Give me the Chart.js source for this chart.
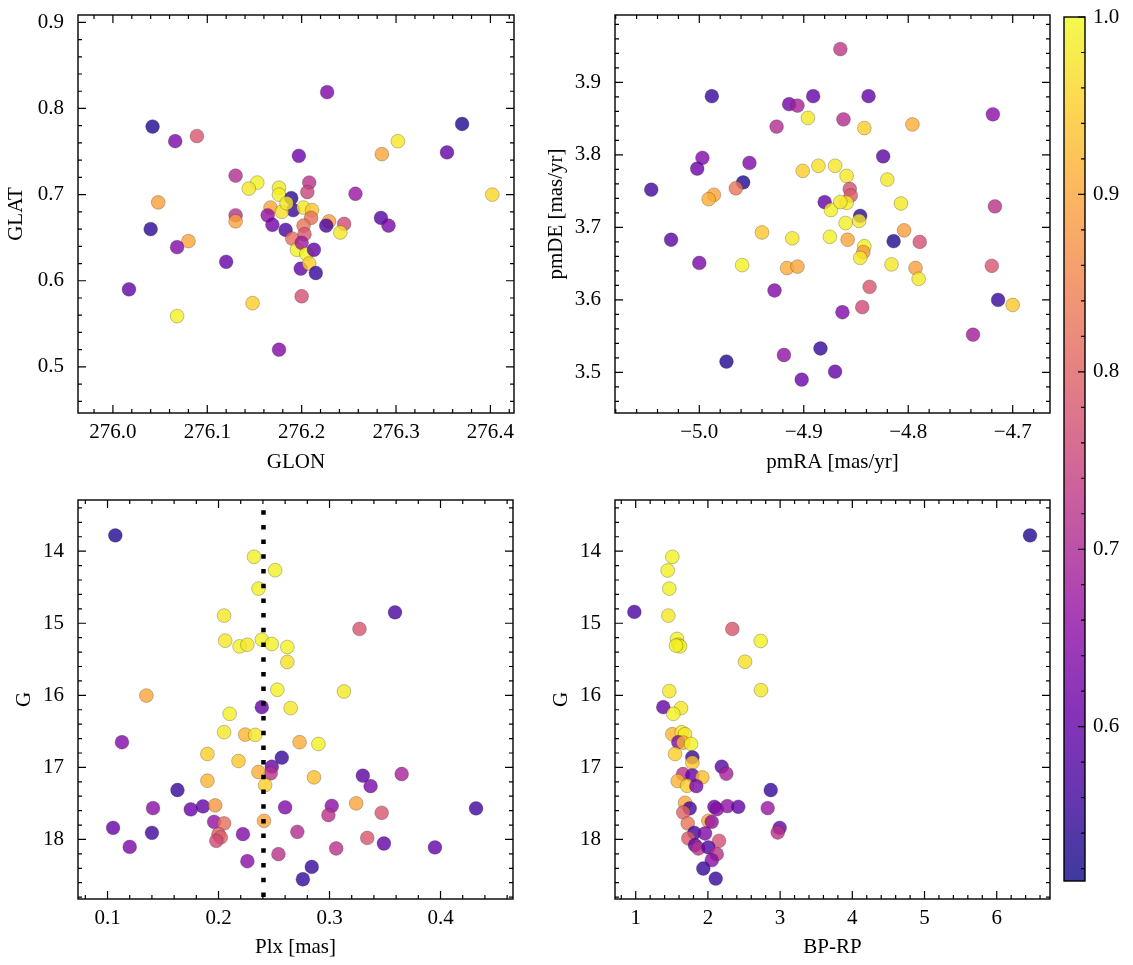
<!DOCTYPE html>
<html>
<head>
<meta charset="utf-8">
<script src="https://cdn.jsdelivr.net/npm/chart.js@4.4.1/dist/chart.umd.min.js"></script>
<style>
  html, body { margin: 0; padding: 0; background: #fff; }
  #wrap { position: relative; width: 1133px; height: 965px; }
  canvas { position: absolute; }
</style>
</head>
<body>
<div id="wrap">
  <canvas id="glonChart" width="540" height="475" style="left:0;top:0"></canvas>
  <canvas id="pmChart" width="520" height="475" style="left:540px;top:0"></canvas>
  <canvas id="plxChart" width="540" height="475" style="left:0;top:485px"></canvas>
  <canvas id="cmdChart" width="520" height="475" style="left:540px;top:485px"></canvas>
  <canvas id="cbarChart" width="93" height="900" style="left:1040px;top:0"></canvas>
</div>
<script>
// colour range of the membership probability (colorbar)
const probMin = 0.513;
const probMax = 1.0;

// GLON / GLAT
const glon = [276.042, 276.066, 276.089, 276.130, 276.153, 276.144, 276.048, 276.176, 276.176, 276.130,
  276.130, 276.167, 276.189, 276.191, 276.179, 276.164, 276.169, 276.183, 276.190, 276.195,
  276.040, 276.080, 276.068, 276.120, 276.017, 276.148, 276.068, 276.176, 276.197, 276.199,
  276.227, 276.370, 276.302, 276.285, 276.354, 276.208, 276.206, 276.257, 276.402, 276.202,
  276.211, 276.210, 276.229, 276.226, 276.245, 276.241, 276.284, 276.292, 276.202, 276.203,
  276.200, 276.205, 276.213, 276.208, 276.215, 276.200, 276.184];
const glat = [0.779, 0.762, 0.768, 0.722, 0.714, 0.707, 0.691, 0.708, 0.700, 0.676,
  0.669, 0.685, 0.696, 0.682, 0.680, 0.676, 0.665, 0.659, 0.649, 0.636,
  0.660, 0.646, 0.639, 0.622, 0.590, 0.574, 0.559, 0.520, 0.745, 0.614,
  0.819, 0.782, 0.762, 0.747, 0.749, 0.714, 0.703, 0.701, 0.700, 0.685,
  0.682, 0.673, 0.669, 0.664, 0.666, 0.656, 0.673, 0.664, 0.664, 0.654,
  0.644, 0.631, 0.636, 0.620, 0.609, 0.582, 0.690];
const probA = [0.53, 0.63, 0.78, 0.71, 0.99, 0.98, 0.89, 0.98, 0.99, 0.72,
  0.90, 0.90, 0.54, 0.55, 0.97, 0.66, 0.62, 0.57, 0.82, 0.99,
  0.54, 0.90, 0.64, 0.60, 0.60, 0.95, 0.99, 0.64, 0.61, 0.60,
  0.63, 0.53, 0.98, 0.90, 0.60, 0.72, 0.75, 0.67, 0.96, 0.98,
  0.94, 0.82, 0.89, 0.57, 0.76, 0.98, 0.58, 0.63, 0.83, 0.78,
  0.68, 0.99, 0.60, 0.95, 0.55, 0.77, 0.98];

// proper motions
const pmra = [-4.988, -4.914, -4.906, -4.891, -4.896, -4.926, -4.997, -5.002, -4.952, -5.046,
  -4.958, -4.965, -4.986, -4.991, -4.901, -4.886, -4.870, -4.880, -4.874, -5.027,
  -4.940, -4.911, -4.875, -5.000, -4.959, -4.916, -4.906, -4.928, -4.974, -4.919,
  -4.884, -4.902, -4.870, -4.865, -4.838, -4.862, -4.842, -4.796, -4.719, -4.824,
  -4.859, -4.820, -4.856, -4.855, -4.859, -4.865, -4.807, -4.846, -4.847, -4.860,
  -4.858, -4.804, -4.814, -4.789, -4.842, -4.843, -4.846, -4.816, -4.793, -4.790,
  -4.837, -4.844, -4.863, -4.717, -4.720, -4.714, -4.700, -4.738];
const pmde = [3.881, 3.870, 3.868, 3.881, 3.851, 3.839, 3.796, 3.781, 3.789, 3.752,
  3.762, 3.754, 3.745, 3.739, 3.778, 3.785, 3.785, 3.735, 3.724, 3.683,
  3.693, 3.685, 3.687, 3.651, 3.648, 3.644, 3.646, 3.613, 3.515, 3.524,
  3.533, 3.490, 3.501, 3.946, 3.881, 3.849, 3.837, 3.842, 3.856, 3.798,
  3.771, 3.766, 3.753, 3.744, 3.734, 3.735, 3.733, 3.716, 3.709, 3.706,
  3.683, 3.696, 3.681, 3.680, 3.674, 3.666, 3.658, 3.649, 3.644, 3.629,
  3.618, 3.590, 3.583, 3.729, 3.647, 3.600, 3.593, 3.552];
const probB = [0.55, 0.62, 0.69, 0.60, 0.98, 0.71, 0.64, 0.61, 0.64, 0.56,
  0.53, 0.83, 0.90, 0.91, 0.95, 0.97, 0.98, 0.60, 0.99, 0.59,
  0.94, 0.98, 0.99, 0.63, 0.99, 0.91, 0.90, 0.64, 0.53, 0.66,
  0.55, 0.61, 0.60, 0.73, 0.60, 0.71, 0.95, 0.91, 0.65, 0.59,
  0.98, 0.98, 0.77, 0.79, 0.99, 0.98, 0.98, 0.54, 0.98, 0.99,
  0.90, 0.89, 0.53, 0.77, 0.99, 0.88, 0.98, 0.98, 0.89, 0.98,
  0.78, 0.76, 0.64, 0.72, 0.78, 0.55, 0.94, 0.68];

// parallax vs G
const plx = [0.107, 0.232, 0.251, 0.236, 0.205, 0.206, 0.219, 0.226, 0.239, 0.248,
  0.262, 0.262, 0.135, 0.253, 0.239, 0.210, 0.265, 0.113, 0.205, 0.224,
  0.233, 0.273, 0.190, 0.218, 0.257, 0.248, 0.247, 0.236, 0.242, 0.190,
  0.163, 0.141, 0.175, 0.186, 0.197, 0.260, 0.196, 0.205, 0.241, 0.105,
  0.140, 0.200, 0.202, 0.198, 0.222, 0.271, 0.120, 0.254, 0.226, 0.359,
  0.327, 0.313, 0.290, 0.286, 0.330, 0.337, 0.365, 0.324, 0.302, 0.299,
  0.347, 0.432, 0.334, 0.349, 0.395, 0.306, 0.284, 0.276];
const gPlx = [13.782, 14.078, 14.264, 14.519, 14.894, 15.242, 15.321, 15.298, 15.228, 15.288,
  15.330, 15.538, 16.003, 15.923, 16.164, 16.257, 16.178, 16.651, 16.512, 16.545,
  16.549, 16.651, 16.814, 16.911, 16.865, 16.990, 17.082, 17.064, 17.245, 17.185,
  17.314, 17.565, 17.583, 17.541, 17.527, 17.555, 17.755, 17.777, 17.741, 17.839,
  17.908, 17.926, 17.972, 18.019, 17.926, 17.894, 18.103, 18.204, 18.302, 14.848,
  15.079, 15.947, 16.675, 17.138, 17.115, 17.259, 17.092, 17.499, 17.533, 17.662,
  17.630, 17.569, 17.978, 18.056, 18.111, 18.125, 18.381, 18.552];
const probC = [0.53, 0.99, 0.99, 0.99, 0.98, 0.98, 0.99, 0.98, 0.99, 0.99,
  0.99, 0.97, 0.90, 0.99, 0.60, 0.99, 0.98, 0.64, 0.98, 0.92,
  0.98, 0.91, 0.95, 0.94, 0.55, 0.60, 0.72, 0.91, 0.95, 0.92,
  0.55, 0.65, 0.61, 0.60, 0.88, 0.64, 0.66, 0.82, 0.90, 0.60,
  0.56, 0.79, 0.80, 0.76, 0.64, 0.71, 0.63, 0.72, 0.65, 0.57,
  0.78, 0.98, 0.99, 0.93, 0.59, 0.63, 0.69, 0.90, 0.65, 0.72,
  0.78, 0.56, 0.78, 0.60, 0.60, 0.72, 0.55, 0.55];
const plxCut = 0.2405;

// colour-magnitude diagram
const bprp = [1.507, 1.443, 1.465, 0.981, 1.452, 1.572, 1.590, 1.614, 1.558, 2.731,
  2.514, 2.338, 1.465, 2.735, 1.382, 1.627, 1.521, 1.507, 1.637, 1.683,
  1.590, 1.659, 1.766, 1.544, 1.784, 1.784, 2.191, 2.255, 1.655, 1.784,
  1.922, 1.582, 1.711, 1.839, 2.870, 1.683, 1.748, 1.659, 2.089, 2.126,
  2.269, 2.421, 2.828, 1.720, 2.006, 2.053, 2.994, 2.967, 1.812, 1.960,
  1.729, 2.154, 1.821, 1.867, 2.006, 2.122, 2.053, 1.936, 2.108, 6.461];
const gCmd = [14.078, 14.268, 14.519, 14.843, 14.894, 15.218, 15.298, 15.321, 15.310, 15.246,
  15.534, 15.079, 15.942, 15.928, 16.164, 16.178, 16.257, 16.540, 16.512, 16.540,
  16.651, 16.656, 16.675, 16.814, 16.860, 16.935, 16.990, 17.088, 17.092, 17.110,
  17.138, 17.189, 17.255, 17.259, 17.314, 17.491, 17.569, 17.625, 17.547, 17.579,
  17.537, 17.547, 17.565, 17.777, 17.741, 17.755, 17.839, 17.903, 17.908, 17.917,
  17.986, 18.019, 18.079, 18.125, 18.111, 18.204, 18.288, 18.403, 18.542, 13.782];
const probD = [0.99, 0.99, 0.99, 0.57, 0.98, 0.99, 0.98, 0.99, 0.99, 0.99,
  0.97, 0.78, 0.98, 0.98, 0.60, 0.98, 0.99, 0.92, 0.98, 0.98,
  0.64, 0.91, 0.99, 0.95, 0.55, 0.94, 0.59, 0.69, 0.72, 0.60,
  0.93, 0.92, 0.95, 0.63, 0.55, 0.90, 0.56, 0.80, 0.61, 0.65,
  0.66, 0.60, 0.67, 0.83, 0.90, 0.66, 0.60, 0.72, 0.56, 0.64,
  0.79, 0.77, 0.60, 0.72, 0.58, 0.72, 0.65, 0.55, 0.55, 0.53];

// axis limits and tick labels
const glonRange = [275.963, 276.425];
const glatRange = [0.4465, 0.9085];
const pmraRange = [-5.0807, -4.6643];
const pmdeRange = [3.444, 3.993];
const plxRange = [0.0734, 0.4653];
const bprpRange = [0.713, 6.738];
const gRange = [13.29, 18.826];

const glonTicks = [276.0, 276.1, 276.2, 276.3, 276.4];
const glatTicks = [0.5, 0.6, 0.7, 0.8, 0.9];
const pmraTicks = [-5.0, -4.9, -4.8, -4.7];
const pmdeTicks = [3.5, 3.6, 3.7, 3.8, 3.9];
const plxTicks = [0.1, 0.2, 0.3, 0.4];
const bprpTicks = [1, 2, 3, 4, 5, 6];
const gTicks = [14, 15, 16, 17, 18];
const cbarTicks = [0.6, 0.7, 0.8, 0.9, 1.0];

const plasmaStops = ['#0d0887', '#41049d', '#6a00a8', '#8f0da4', '#b12a90', '#cc4778',
  '#e16462', '#f2844b', '#fca636', '#fcce25', '#f0f921'];

Chart.defaults.font.family = "'Liberation Serif', 'Times New Roman', serif";
Chart.defaults.font.size = 21;
Chart.defaults.color = '#000';

function hexRgb(h) {
  return [1, 3, 5].map(i => parseInt(h.slice(i, i + 2), 16));
}

function plasma(p, alpha) {
  let t = (p - probMin) / (probMax - probMin);
  t = Math.min(1, Math.max(0, t)) * (plasmaStops.length - 1);
  const i = Math.min(Math.floor(t), plasmaStops.length - 2);
  const f = t - i;
  const a = hexRgb(plasmaStops[i]);
  const b = hexRgb(plasmaStops[i + 1]);
  const c = a.map((v, k) => Math.round(v + (b[k] - v) * f));
  return `rgba(${c[0]},${c[1]},${c[2]},${alpha})`;
}

function minorValues(min, max, step, majors) {
  const out = [];
  for (let k = Math.ceil(min / step - 1e-9); k * step <= max + 1e-9; k++) {
    const v = k * step;
    if (!majors.some(m => Math.abs(m - v) < step / 10)) out.push(v);
  }
  return out;
}

// no extra room for the edge labels, the chart area is set by hand
function noEdgePad(s) {
  s.paddingTop = 0;
  s.paddingBottom = 0;
  s.paddingLeft = 0;
  s.paddingRight = 0;
}

// frame + inward ticks on every side, like the matplotlib style
const frameTicks = {
  id: 'frameTicks',
  afterDatasetsDraw(chart, args, opts) {
    const { ctx, chartArea: a } = chart;
    ctx.save();
    ctx.strokeStyle = '#000';
    ctx.lineWidth = 1.2;
    ctx.beginPath();
    if (opts.xMinor) {
      const s = chart.scales.x;
      const majors = s.ticks.map(t => t.value);
      const put = (v, len) => {
        const px = s.getPixelForValue(v);
        ctx.moveTo(px, a.bottom); ctx.lineTo(px, a.bottom - len);
        ctx.moveTo(px, a.top); ctx.lineTo(px, a.top + len);
      };
      majors.forEach(v => put(v, 8));
      minorValues(s.min, s.max, opts.xMinor, majors).forEach(v => put(v, 4));
    }
    if (opts.yMinor) {
      const s = chart.scales.y;
      const majors = s.ticks.map(t => t.value);
      const put = (v, len) => {
        const py = s.getPixelForValue(v);
        if (opts.left !== false) { ctx.moveTo(a.left, py); ctx.lineTo(a.left + len, py); }
        ctx.moveTo(a.right, py); ctx.lineTo(a.right - len, py);
      };
      majors.forEach(v => put(v, opts.major || 8));
      minorValues(s.min, s.max, opts.yMinor, majors).forEach(v => put(v, opts.minor || 4));
    }
    ctx.stroke();
    ctx.lineWidth = 1.4;
    ctx.strokeRect(a.left, a.top, a.right - a.left, a.bottom - a.top);
    ctx.restore();
  }
};

const cbarFill = {
  id: 'cbarFill',
  beforeDatasetsDraw(chart) {
    const { ctx, chartArea: a } = chart;
    const g = ctx.createLinearGradient(0, a.bottom, 0, a.top);
    plasmaStops.forEach((c, i) => g.addColorStop(i / (plasmaStops.length - 1), c));
    ctx.save();
    ctx.globalAlpha = 0.8;
    ctx.fillStyle = g;
    ctx.fillRect(a.left, a.top, a.right - a.left, a.bottom - a.top);
    ctx.restore();
  }
};

const oneDec = v => v.toFixed(1);
const negDec = v => v.toFixed(1).replace('-', '\u2212');
const whole = v => String(v);

function axisOpts(range, ticks, fmt, title, titlePad, pad, fit, reverse) {
  return {
    type: 'linear',
    min: range[0],
    max: range[1],
    reverse: !!reverse,
    grid: { display: false, drawTicks: false },
    border: { display: false },
    afterBuildTicks: s => { s.ticks = ticks.map(v => ({ value: v })); },
    afterFit: s => { fit(s); noEdgePad(s); },
    ticks: { padding: pad, maxRotation: 0, autoSkip: false, callback: v => fmt(v) },
    title: { display: true, text: title, padding: titlePad },
  };
}

function scatterPanel(id, p) {
  const datasets = [{
    data: p.xs.map((x, i) => ({ x: x, y: p.ys[i] })),
    pointRadius: 6.9,
    pointHoverRadius: 6.9,
    pointBackgroundColor: p.prob.map(v => plasma(v, 0.8)),
    pointBorderColor: 'rgba(30,30,30,0.45)',
    pointBorderWidth: 0.6,
    order: 1,
  }].concat(p.extra || []);

  return new Chart(document.getElementById(id), {
    type: 'scatter',
    data: { datasets: datasets },
    plugins: [frameTicks],
    options: {
      responsive: false,
      animation: false,
      layout: { padding: { top: 15, right: p.padRight, left: 0, bottom: 0 } },
      plugins: {
        legend: { display: false },
        tooltip: { enabled: false },
        frameTicks: { xMinor: p.xMinor, yMinor: p.yMinor },
      },
      scales: {
        x: axisOpts(p.xRange, p.xTicks, p.xFmt, p.xTitle, { top: 0, bottom: 0 }, 7,
          s => { s.height = p.xHeight; }),
        y: axisOpts(p.yRange, p.yTicks, p.yFmt, p.yTitle, { top: p.yTitlePad, bottom: 0 }, 14,
          s => { s.width = p.yWidth; }, p.reverse),
      },
    },
  });
}

scatterPanel('glonChart', {
  xs: glon, ys: glat, prob: probA,
  xRange: glonRange, yRange: glatRange, xTicks: glonTicks, yTicks: glatTicks,
  xFmt: oneDec, yFmt: oneDec, xTitle: 'GLON', yTitle: 'GLAT',
  xMinor: 0.02, yMinor: 0.02, padRight: 26, xHeight: 62, yWidth: 78, yTitlePad: 4,
});

scatterPanel('pmChart', {
  xs: pmra, ys: pmde, prob: probB,
  xRange: pmraRange, yRange: pmdeRange, xTicks: pmraTicks, yTicks: pmdeTicks,
  xFmt: negDec, yFmt: oneDec, xTitle: 'pmRA [mas/yr]', yTitle: 'pmDE [mas/yr]',
  xMinor: 0.02, yMinor: 0.02, padRight: 10, xHeight: 62, yWidth: 75, yTitlePad: 4,
});

scatterPanel('plxChart', {
  xs: plx, ys: gPlx, prob: probC,
  xRange: plxRange, yRange: gRange, xTicks: plxTicks, yTicks: gTicks,
  xFmt: oneDec, yFmt: whole, xTitle: 'Plx [mas]', yTitle: 'G',
  xMinor: 0.02, yMinor: 0.2, padRight: 27, xHeight: 61, yWidth: 78, yTitlePad: 12,
  reverse: true,
  extra: [{
    type: 'line',
    data: [{ x: plxCut, y: gRange[0] }, { x: plxCut, y: gRange[1] }],
    borderColor: '#000',
    borderWidth: 4.5,
    borderDash: [4.5, 10.2],
    borderDashOffset: 4.5,
    borderCapStyle: 'butt',
    pointRadius: 0,
    order: 0,
  }],
});

scatterPanel('cmdChart', {
  xs: bprp, ys: gCmd, prob: probD,
  xRange: bprpRange, yRange: gRange, xTicks: bprpTicks, yTicks: gTicks,
  xFmt: whole, yFmt: whole, xTitle: 'BP-RP', yTitle: 'G',
  xMinor: 0.2, yMinor: 0.2, padRight: 10, xHeight: 61, yWidth: 75, yTitlePad: 9,
  reverse: true,
});

// colorbar
new Chart(document.getElementById('cbarChart'), {
  type: 'scatter',
  data: { datasets: [{ data: [] }] },
  plugins: [cbarFill, frameTicks],
  options: {
    responsive: false,
    animation: false,
    layout: { padding: { top: 17, left: 24, bottom: 19, right: 0 } },
    plugins: {
      legend: { display: false },
      tooltip: { enabled: false },
      frameTicks: { yMinor: 0.02, left: false, major: 7, minor: 4 },
    },
    scales: {
      x: { display: false, min: 0, max: 1 },
      y: {
        position: 'right',
        min: probMin,
        max: probMax,
        grid: { display: false, drawTicks: false },
        border: { display: false },
        afterBuildTicks: s => { s.ticks = cbarTicks.map(v => ({ value: v })); },
        afterFit: s => { s.width = 48; noEdgePad(s); },
        ticks: { padding: 8, callback: v => oneDec(v) },
      },
    },
  },
});
</script>
</body>
</html>
